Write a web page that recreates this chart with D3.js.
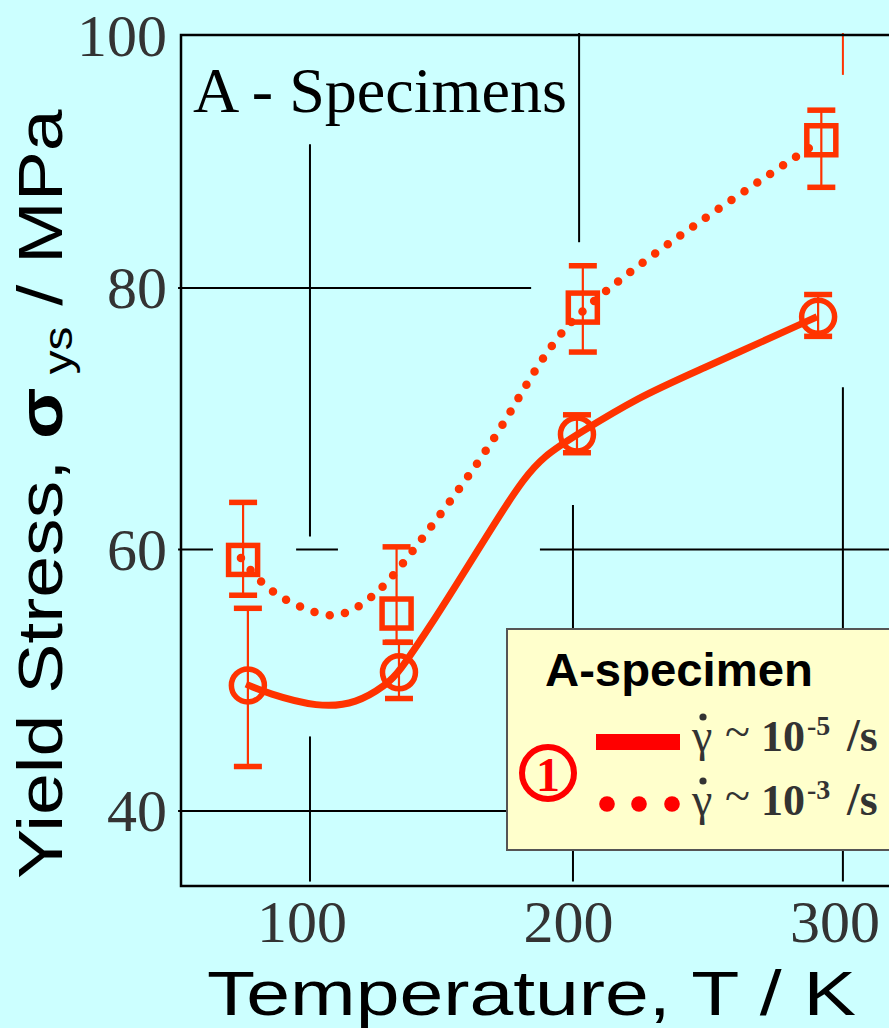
<!DOCTYPE html>
<html><head><meta charset="utf-8">
<script src="https://cdn.jsdelivr.net/npm/d3@7"></script>
<style>html,body{margin:0;padding:0;background:#ccffff;overflow:hidden}</style>
</head><body>
<svg id="c" width="889" height="1028"></svg>
<script>
// ---------- data ----------
const xTicks = [100, 200, 300];
const yTicks = [40, 60, 80, 100];

// measured points, strain rate ~1e-3 /s (squares, dotted)
const sqT   = [74.9, 132.5, 202.4, 291.9];
const sqV   = [59.2, 55.1, 78.5, 91.3];
const sqLo  = [56.5, 52.9, 75.1, 87.7];
const sqHi  = [63.6, 60.2, 81.7, 93.6];

// measured points, strain rate ~1e-5 /s (circles, solid)
const ciT   = [76.7, 133.4, 200.2, 290.7];
const ciV   = [49.6, 50.6, 68.8, 77.8];
const ciLo  = [43.4, 48.6, 67.4, 76.3];
const ciHi  = [55.5, 52.9, 70.3, 79.5];

// guide curves
const solidT = [76.0, 83.9, 103.0, 117.6, 128.9, 133.0, 145.0, 155.2, 163.8, 172.4, 179.9, 187.4, 200.2, 223.8, 243.7, 290.3];
const solidV = [49.7, 49.0, 47.9, 48.2, 49.7, 50.5, 54.1, 57.4, 60.2, 63.0, 65.3, 67.1, 68.8, 71.7, 73.5, 77.8];
const dotT = [74.1, 81.6, 91.4, 102.6, 108.3, 114.3, 124.0, 132.6, 143.5, 157.8, 171.3, 183.3, 193.4, 201.7, 220.1, 249.7, 289.5];
const dotV = [59.35, 57.4, 56.0, 55.1, 54.9, 55.1, 56.4, 58.3, 61.2, 65.1, 69.1, 73.4, 76.4, 78.2, 81.3, 85.6, 91.0];

// broken grid segments (value, from, to)
const gridHv   = [80, 60, 60, 60, 40];
const gridHfrom= [50.5, 50.5, 94.8, 186.3, 50.5];
const gridHto  = [183.0, 63.6, 110.5, 330, 330];
const gridVt   = [100, 100, 201, 198.7, 300];
const gridVfrom= [91.0, 45.7, 99.5, 63.4, 72.4];
const gridVto  = [61.0, 34.6, 83.5, 34.6, 34.6];

const titleText = "A - Specimens";
const legendTitle = "A-specimen";
const rateExp = ["-5", "-3"];

// ---------- setup ----------
const svg = d3.select("#c");
const C = "#ff3300";
const x = d3.scaleLinear().domain([51.6, 317.3]).range([181, 889]);
const y = d3.scaleLinear().domain([34.26, 99.35]).range([886, 35]);

svg.append("rect").attr("width", 889).attr("height", 1028).attr("fill", "#ccffff");

function fit(sel, target) {
  const w = sel.node().getBBox().width;
  sel.attr("transform", `scale(${target / w},1)`);
}

// grid
const g = svg.append("g").attr("stroke", "#000").attr("stroke-width", 2);
gridHv.forEach((v, i) => {
  g.append("line").attr("x1", x(gridHfrom[i])).attr("x2", x(gridHto[i]))
   .attr("y1", y(v)).attr("y2", y(v));
});
gridVt.forEach((t, i) => {
  g.append("line").attr("x1", x(t)).attr("x2", x(t))
   .attr("y1", y(gridVfrom[i])).attr("y2", y(gridVto[i]));
});
svg.append("line").attr("x1", x(300)).attr("x2", x(300))
  .attr("y1", y(99.5)).attr("y2", y(96.3)).attr("stroke", C).attr("stroke-width", 2);

// frame
svg.append("path")
  .attr("d", `M900,${y.range()[1]}H${x.range()[0]}V${y.range()[0]}H900`)
  .attr("fill", "none").attr("stroke", "#000").attr("stroke-width", 2.5);

// tick labels
svg.append("g").selectAll("text").data(yTicks).join("text")
  .attr("x", 167).attr("y", d => Math.max(y(d), 36)).attr("dy", "0.34em")
  .attr("text-anchor", "end").attr("font-family", "Liberation Serif, Times New Roman, serif")
  .attr("font-size", 60).attr("fill", "#333").text(d => d);
svg.append("g").selectAll("text").data(xTicks).join("text")
  .attr("x", d => x(d) - 8).attr("y", 942)
  .attr("text-anchor", "middle").attr("font-family", "Liberation Serif, Times New Roman, serif")
  .attr("font-size", 60).attr("fill", "#333").text(d => d);

// axis titles
const xt = svg.append("g").attr("transform", "translate(207,1015)")
  .append("text").attr("font-family", "Liberation Sans, Arial, sans-serif")
  .attr("font-size", 63).attr("fill", "#000").text("Temperature, T / K");
fit(xt, 649);

const yt = svg.append("g").attr("transform", "translate(62,879) rotate(-90)")
  .append("text").attr("font-family", "Liberation Sans, Arial, sans-serif")
  .attr("font-size", 63).attr("fill", "#000");
yt.append("tspan").text("Yield Stress, ");
yt.append("tspan").attr("font-weight", "bold").text("σ");
yt.append("tspan").attr("font-size", 40).attr("dy", 10).text(" ys");
yt.append("tspan").attr("dy", -10).text(" / MPa");
fit(yt, 771);

// panel title
const tt = svg.append("g").attr("transform", "translate(193,112)")
  .append("text").attr("font-family", "Liberation Serif, Times New Roman, serif")
  .attr("font-size", 64).attr("fill", "#000").text(titleText);
fit(tt, 374);

// legend box
svg.append("rect").attr("x", 507).attr("y", 629).attr("width", 420).attr("height", 221)
  .attr("fill", "#ffffcc").attr("stroke", "#555").attr("stroke-width", 2);
const lt = svg.append("g").attr("transform", "translate(545,686)")
  .append("text").attr("font-family", "Liberation Sans, Arial, sans-serif")
  .attr("font-weight", "bold").attr("font-size", 46).attr("fill", "#000").text(legendTitle);
fit(lt, 268);
svg.append("circle").attr("cx", 548).attr("cy", 773).attr("r", 26)
  .attr("fill", "none").attr("stroke", "#ff0000").attr("stroke-width", 6);
svg.append("text").attr("x", 548).attr("y", 791).attr("text-anchor", "middle")
  .attr("font-family", "Liberation Serif, Times New Roman, serif").attr("font-weight", "bold")
  .attr("font-size", 48).attr("fill", "#ff0000").text("1");
svg.append("rect").attr("x", 596).attr("y", 734).attr("width", 84).attr("height", 16).attr("fill", "#ff0000");
[607, 639, 672].forEach(cx => svg.append("circle").attr("cx", cx).attr("cy", 804).attr("r", 7.8).attr("fill", "#ff0000"));
rateExp.forEach((e, i) => {
  const by = 751 + i * 64;
  const serif = "Liberation Serif, Times New Roman, serif";
  svg.append("text").attr("x", 692).attr("y", by).attr("font-family", serif).attr("font-size", 46).attr("fill", "#333").text("γ");
  svg.append("circle").attr("cx", 703).attr("cy", by - 34).attr("r", 3.6).attr("fill", "#333");
  svg.append("text").attr("x", 725).attr("y", by - 4).attr("font-family", serif).attr("font-size", 46).attr("fill", "#333").text("~");
  svg.append("text").attr("x", 761).attr("y", by).attr("font-family", serif).attr("font-weight", "bold").attr("font-size", 44).attr("fill", "#333").text("10");
  svg.append("text").attr("x", 807).attr("y", by - 16).attr("font-family", serif).attr("font-weight", "bold").attr("font-size", 28).attr("fill", "#333").text(e);
  svg.append("text").attr("x", 847).attr("y", by).attr("font-family", serif).attr("font-weight", "bold").attr("font-size", 46).attr("fill", "#333").text("/s");
});

// curves
const line = d3.line().x(d => x(d[0])).y(d => y(d[1])).curve(d3.curveBasis);
svg.append("path").attr("d", line(solidT.map((t, i) => [t, solidV[i]])))
  .attr("fill", "none").attr("stroke", C).attr("stroke-width", 7).attr("stroke-linecap", "butt");
svg.append("path").attr("d", line(dotT.map((t, i) => [t, dotV[i]])))
  .attr("fill", "none").attr("stroke", C).attr("stroke-width", 8.5)
  .attr("stroke-linecap", "round").attr("stroke-dasharray", "0 15.5");

// error bars
function errorBars(T, lo, hi) {
  const eg = svg.append("g").attr("stroke", C);
  T.forEach((t, i) => {
    eg.append("line").attr("x1", x(t)).attr("x2", x(t)).attr("y1", y(lo[i])).attr("y2", y(hi[i])).attr("stroke-width", 2.2);
    [lo[i], hi[i]].forEach(v => eg.append("line").attr("x1", x(t) - 14).attr("x2", x(t) + 14)
      .attr("y1", y(v)).attr("y2", y(v)).attr("stroke-width", 5.5));
  });
}
errorBars(sqT, sqLo, sqHi);
errorBars(ciT, ciLo, ciHi);

// markers
svg.append("g").selectAll("rect").data(sqT).join("rect")
  .attr("x", (d) => x(d) - 14.5).attr("y", (d, i) => y(sqV[i]) - 14.5)
  .attr("width", 29).attr("height", 29).attr("fill", "none").attr("stroke", C).attr("stroke-width", 5.5);
svg.append("g").selectAll("circle").data(ciT).join("circle")
  .attr("cx", d => x(d)).attr("cy", (d, i) => y(ciV[i])).attr("r", 16.5)
  .attr("fill", "none").attr("stroke", C).attr("stroke-width", 5.5);
</script>
</body></html>
